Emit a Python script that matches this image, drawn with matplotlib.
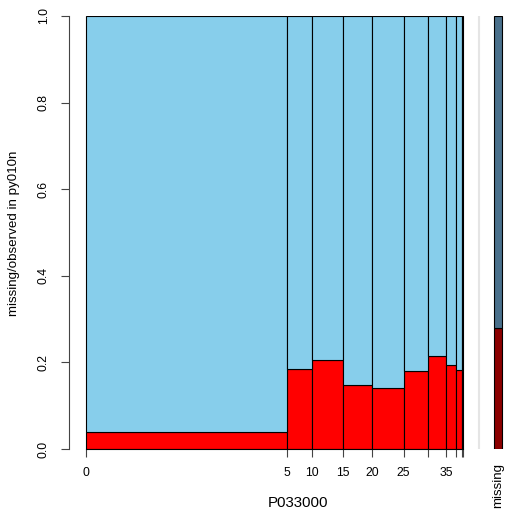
import numpy as np
import matplotlib
matplotlib.use("Agg")
import matplotlib.pyplot as plt

plt.rcParams["font.family"] = ["Liberation Sans", "DejaVu Sans"]

# bins of P033000 with their share of observations and share missing in py010n
breaks = [0, 5, 10, 15, 20, 25, 30, 35, 40, 45, 50]
tick_labels = ["0", "5", "10", "15", "20", "25", "", "35", "", "", ""]
bin_share = [0.534, 0.065, 0.084, 0.077, 0.083, 0.064, 0.049, 0.027, 0.015, 0.002]
miss_share = [0.039, 0.185, 0.205, 0.148, 0.141, 0.179, 0.215, 0.193, 0.182, 0.18]
total_missing = 0.279

col_obs, col_miss = "#87CEEB", "#FF0000"
col_obs_dark, col_miss_dark = "#4A708B", "#8B0000"

W, H = 506, 511
fig = plt.figure(figsize=(W / 100, H / 100), dpi=100)
ax = fig.add_axes([69 / W, (H - 449) / H, (W - 69) / W, 433 / H])

px = 377.0  # pixels per unit of x
x0 = 85.7
ax.set_xlim((69 - x0) / px, (W - x0) / px)
ax.set_ylim(0, 1)

left = np.concatenate([[0], np.cumsum(bin_share)[:-1]])
width = np.array(bin_share)
miss = np.array(miss_share)
ax.bar(left, miss, width=width, align="edge", color=col_miss,
       edgecolor="black", linewidth=0.8)
ax.bar(left, 1 - miss, bottom=miss, width=width, align="edge",
       color=col_obs, edgecolor="black", linewidth=0.8)

# separator and the overall missing bar
sep = (479 - x0) / px
ax.axvline(sep, color="#E5E5E5", linewidth=1.5)
mx0 = (494.3 - x0) / px
mw = (501.7 - 494.3) / px
ax.bar(mx0, total_missing, width=mw, align="edge", color=col_miss_dark,
       edgecolor="black", linewidth=0.8)
ax.bar(mx0, 1 - total_missing, bottom=total_missing, width=mw, align="edge",
       color=col_obs_dark, edgecolor="black", linewidth=0.8)

edges = np.concatenate([[0], np.cumsum(bin_share)])
ax.set_xticks(edges)
ax.set_xticklabels(tick_labels)
ax.set_yticks([0, 0.2, 0.4, 0.6, 0.8, 1.0])
ax.set_yticklabels(["0.0", "0.2", "0.4", "0.6", "0.8", "1.0"],
                   rotation=90, va="center")
ax.tick_params(axis="both", length=5.8, width=0.8, color="#444444",
               labelsize=8.8, labelcolor="black")
ax.tick_params(axis="x", pad=7)
ax.tick_params(axis="y", pad=8)

for s in ["top", "right"]:
    ax.spines[s].set_visible(False)
ax.spines["left"].set_color("#444444")
ax.spines["left"].set_linewidth(0.8)
ax.spines["bottom"].set_bounds(0, 1)
ax.spines["bottom"].set_linewidth(0.8)

ax.text(mx0 + mw / 2, -0.032, "missing", rotation=90, ha="center", va="top",
        fontsize=9.6)
ax.text((298 - x0) / px, -0.125, "P033000", ha="center", va="center",
        fontsize=10.8)
fig.text(14 / W, (H - 233) / H, "missing/observed in py010n", rotation=90,
         ha="center", va="center", fontsize=9.6)

fig.savefig("out.png", dpi=100)
